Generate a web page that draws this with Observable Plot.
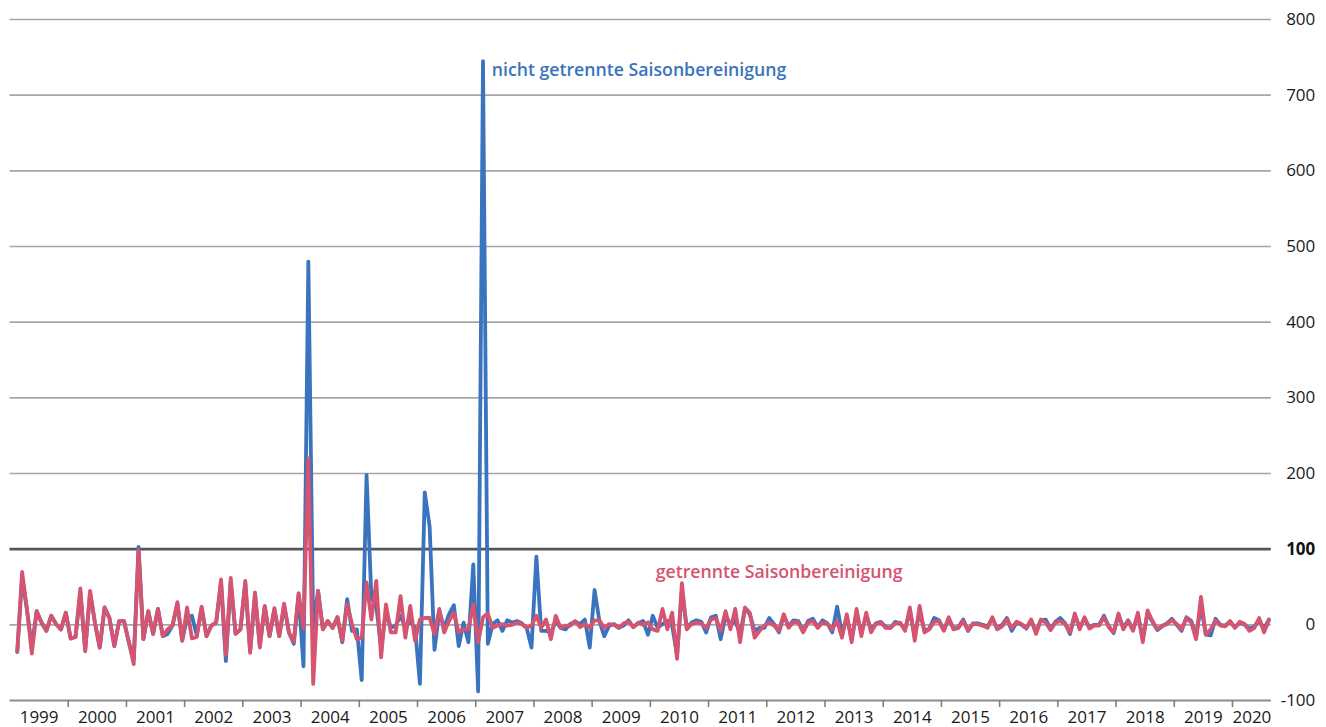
<!DOCTYPE html>
<html>
<head>
<meta charset="utf-8">
<script src="https://cdn.jsdelivr.net/npm/d3@7"></script>
<script src="https://cdn.jsdelivr.net/npm/@observablehq/plot@0.6"></script>
<style>
  html, body { margin: 0; padding: 0; background: #ffffff; }
  #chart svg { display: block; }
</style>
</head>
<body>
<div id="chart"></div>
<script>
// Monthly values, February 1999 – August 2020 (month index 1 = Feb 1999)
const firstMonth = 1;          // months since Jan 1999
const totalMonths = 260;       // Jan 1999 .. Aug 2020 (axis extent)
const years = [1999,2000,2001,2002,2003,2004,2005,2006,2007,2008,2009,2010,2011,2012,2013,2014,2015,2016,2017,2018,2019,2020];
const yTicks = [-100,0,100,200,300,400,500,600,700,800];

const nichtGetrennt = [
 -36,63,20,-28,18,3,-8,12,1,-6,16,-18,
 -16,42,-33,42,3,-30,23,9,-28,5,5,-23,
 -45,103,-19,18,-12,21,-15,-12,-1,28,-21,10,
 12,-14,22,-15,-1,3,55,-48,56,-12,-6,55,
 -35,40,-28,24,-15,20,-15,25,-10,-25,40,-55,
 480,-5,45,-6,5,-4,10,-23,34,-8,-6,-73,
 198,35,25,-30,18,-4,-1,12,-4,5,-4,-78,
 175,130,-33,18,-4,14,26,-28,3,-23,80,-88,
 745,-25,1,6,-8,6,3,5,2,-4,-30,90,
 -8,-8,-10,5,-4,-6,1,4,1,7,-30,46,
 5,-15,-1,1,-4,-1,6,-3,2,5,-13,12,
 -4,1,5,-1,-40,45,-4,3,6,4,-10,10,
 12,-19,12,1,5,-12,21,14,-8,-4,-4,9,
 1,-10,12,-2,6,5,-8,5,8,-3,6,2,
 -10,24,-12,10,-18,15,-10,12,-6,2,4,-3,
 -4,4,2,-6,18,-15,18,-8,-5,9,6,-7,
 8,-5,-3,7,-8,2,2,0,-2,8,-5,0,
 9,-8,3,0,-5,6,-10,6,7,-5,4,9,
 2,-12,12,-3,8,-3,0,0,12,-2,-11,13,
 -4,6,-6,13,-18,15,4,-7,-2,2,8,0,
 -8,10,5,-15,25,-13,-14,8,0,-1,4,-3,
 3,0,-5,-2,6,-5,7
];

const getrennt = [
 -35,70,20,-38,18,3,-8,12,1,-6,16,-18,
 -16,48,-35,45,3,-30,23,9,-28,5,5,-23,
 -52,99,-19,18,-12,21,-15,-6,-1,30,-21,23,
 -18,-16,24,-15,-1,3,60,-40,62,-12,-6,58,
 -37,43,-30,25,-15,22,-15,28,-10,-22,42,-5,
 220,-78,45,-6,5,-4,10,-21,27,1,-19,-17,
 56,7,58,-43,27,-10,-10,38,-17,25,-21,7,
 9,9,-12,21,-10,5,16,-10,-6,-6,27,-23,
 10,15,-4,-1,1,-1,0,3,1,-4,-1,12,
 -4,7,-19,12,-4,-1,-1,5,-3,1,-4,6,
 6,-4,1,0,-4,2,4,-3,3,0,3,-6,
 -8,21,-6,16,-45,55,-6,1,3,2,-4,7,
 9,-8,18,-6,21,-23,23,16,-17,-8,-1,3,
 -1,-8,14,-4,4,3,-10,3,5,-4,3,1,
 -6,5,-17,14,-23,21,-15,16,-10,1,3,-4,
 -4,2,3,-8,23,-21,25,-10,-6,4,5,-8,
 10,-6,-4,5,-7,1,1,-1,-4,10,-6,-2,
 7,-4,4,1,-4,7,-12,7,3,-7,3,5,
 1,-10,15,-6,10,-5,-1,-1,10,-3,-10,15,
 -6,5,-8,16,-23,19,5,-6,-1,1,6,1,
 -6,9,3,-19,37,-13,-6,6,-1,-2,5,-4,
 4,1,-8,-4,9,-10,6
];

const seriesLabels = [
  {text: "nicht getrennte Saisonbereinigung", month: 99.3, value: 733, color: "#3a73be"},
  {text: "getrennte Saisonbereinigung", month: 133.1, value: 70, color: "#d6546f"}
];

const blueColor = "#3a73be";
const redColor = "#d6546f";

const toRows = arr => arr.map((v, i) => ({x: firstMonth + i + 0.5, v}));
const blueRows = toRows(nichtGetrennt);
const redRows = toRows(getrennt);

const boundaries = years.slice(1).map(y => (y - 1999) * 12);
const yearCenters = years.map(y => {
  const s = (y - 1999) * 12, e = Math.min(s + 12, totalMonths);
  return (s + e) / 2;
});
const centerToYear = new Map(yearCenters.map((c, i) => [c, years[i]]));

const chart = Plot.plot({
  width: 1326,
  height: 727,
  marginLeft: 9.5,
  marginRight: 55.2,
  marginTop: 19,
  marginBottom: 27,
  style: {fontFamily: "'Open Sans', sans-serif", fontSize: "17px", color: "#1a1a1a", background: "#ffffff"},
  x: {type: "linear", domain: [0, totalMonths]},
  y: {domain: [-100, 800]},
  marks: [
    Plot.ruleY(yTicks.filter(d => d !== 100 && d !== -100), {stroke: "#a6a6a6", strokeWidth: 1.6}),
    Plot.ruleY([100], {stroke: "#555555", strokeWidth: 2.6}),
    Plot.ruleY([-100], {stroke: "#8c8c8c", strokeWidth: 1.8}),
    Plot.axisX(boundaries, {anchor: "bottom", tickSize: 7, tickFormat: () => "", stroke: "#7f7f7f", strokeWidth: 1.6}),
    Plot.axisX(yearCenters, {anchor: "bottom", tickSize: 0, tickPadding: 10, tickFormat: d => String(centerToYear.get(d)), fontSize: 17, fill: "#1a1a1a"}),
    Plot.axisY(yTicks.filter(d => d !== 100), {anchor: "right", tickSize: 0, tickPadding: 0, dx: 44, textAnchor: "end", fontSize: 17, fill: "#1a1a1a", tickFormat: d => String(d)}),
    Plot.axisY([100], {anchor: "right", tickSize: 0, tickPadding: 0, dx: 44, textAnchor: "end", fontSize: 17, fontWeight: "bold", fill: "#111111", tickFormat: d => String(d)}),
    Plot.lineY(blueRows, {x: "x", y: "v", stroke: blueColor, strokeWidth: 3.8, strokeLinejoin: "round", strokeLinecap: "round"}),
    Plot.lineY(redRows, {x: "x", y: "v", stroke: redColor, strokeWidth: 3.8, strokeLinejoin: "round", strokeLinecap: "round"}),
    Plot.text(seriesLabels, {x: "month", y: "value", text: "text", fill: "color", textAnchor: "start", fontSize: 17.7, fontWeight: 600})
  ]
});

document.getElementById("chart").appendChild(chart);
</script>
</body>
</html>
